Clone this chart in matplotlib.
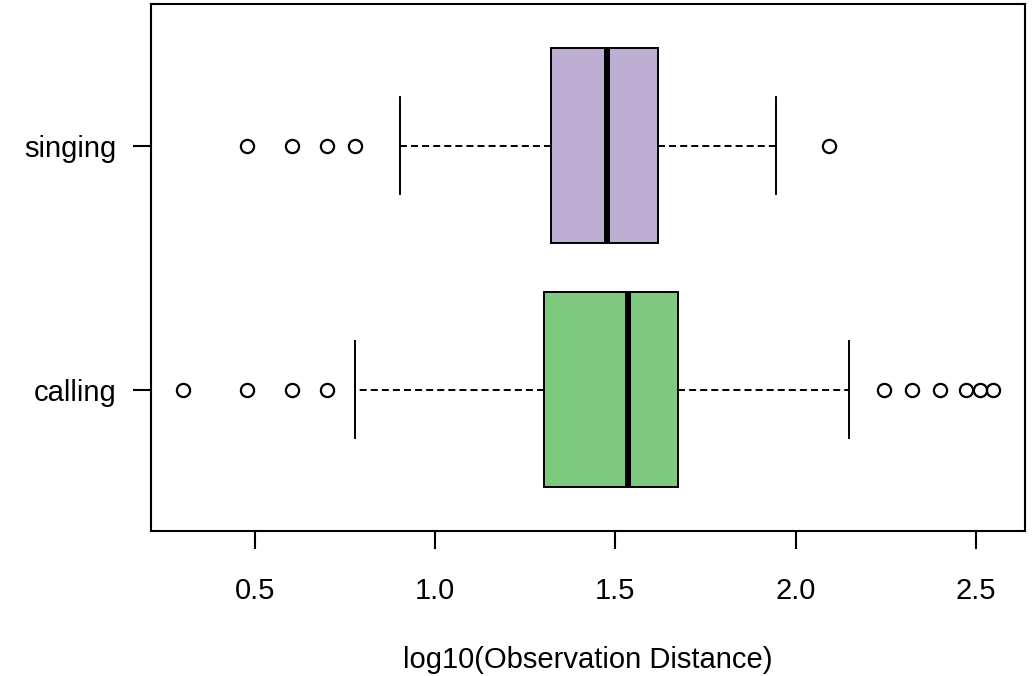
import matplotlib
matplotlib.use("Agg")
import matplotlib.pyplot as plt

plt.rcParams['font.family'] = ['Liberation Sans', 'DejaVu Sans']

# groups, bottom to top (R order)
groups = ["calling", "singing"]
colors = ["#7FC97F", "#BEAED4"]

# five-number summaries (log10 scale)
whislo = [0.778, 0.903]
q1 = [1.301, 1.322]
med = [1.535, 1.477]
q3 = [1.674, 1.617]
whishi = [2.149, 1.946]

# outliers
fliers_calling = [0.301, 0.477, 0.602, 0.699, 2.246, 2.322, 2.400, 2.474, 2.511, 2.547]
fliers_singing = [0.477, 0.602, 0.699, 0.778, 2.093]
fliers = [fliers_calling, fliers_singing]

stats = []
for i, g in enumerate(groups):
    stats.append(dict(label=g, whislo=whislo[i], q1=q1[i], med=med[i],
                      q3=q3[i], whishi=whishi[i], fliers=fliers[i]))

fig = plt.figure(figsize=(10.36, 6.76), dpi=100)
ax = fig.add_axes([0.1458, 0.2145, 0.8436, 0.7795])

lw = 1.4
bp = ax.bxp(stats, positions=[1, 2], widths=0.8, capwidths=0.4,
            orientation='horizontal', patch_artist=True,
            boxprops=dict(linewidth=lw, edgecolor='black'),
            medianprops=dict(color='black', linewidth=4.3, solid_capstyle='butt'),
            whiskerprops=dict(color='black', linewidth=lw, linestyle=(0, (3.6, 2.1))),
            capprops=dict(color='black', linewidth=lw),
            flierprops=dict(marker='o', markersize=9.5, markerfacecolor='none',
                            markeredgecolor='black', markeredgewidth=1.6, linestyle='none'))
for patch, c in zip(bp['boxes'], colors):
    patch.set_facecolor(c)

ax.set_xlim(0.211, 2.637)
ax.set_ylim(0.42, 2.58)
ax.set_xticks([0.5, 1.0, 1.5, 2.0, 2.5])
ax.set_xticklabels(["0.5", "1.0", "1.5", "2.0", "2.5"])
ax.set_yticks([1, 2])
ax.set_yticklabels(groups)

for s in ax.spines.values():
    s.set_linewidth(1.5)
ax.tick_params(axis='both', length=13, width=1.5, labelsize=21)
ax.tick_params(axis='x', pad=20)
ax.tick_params(axis='y', pad=12)
ax.set_xlabel("log10(Observation Distance)", fontsize=21, labelpad=30)

fig.savefig("out.png", dpi=100)
